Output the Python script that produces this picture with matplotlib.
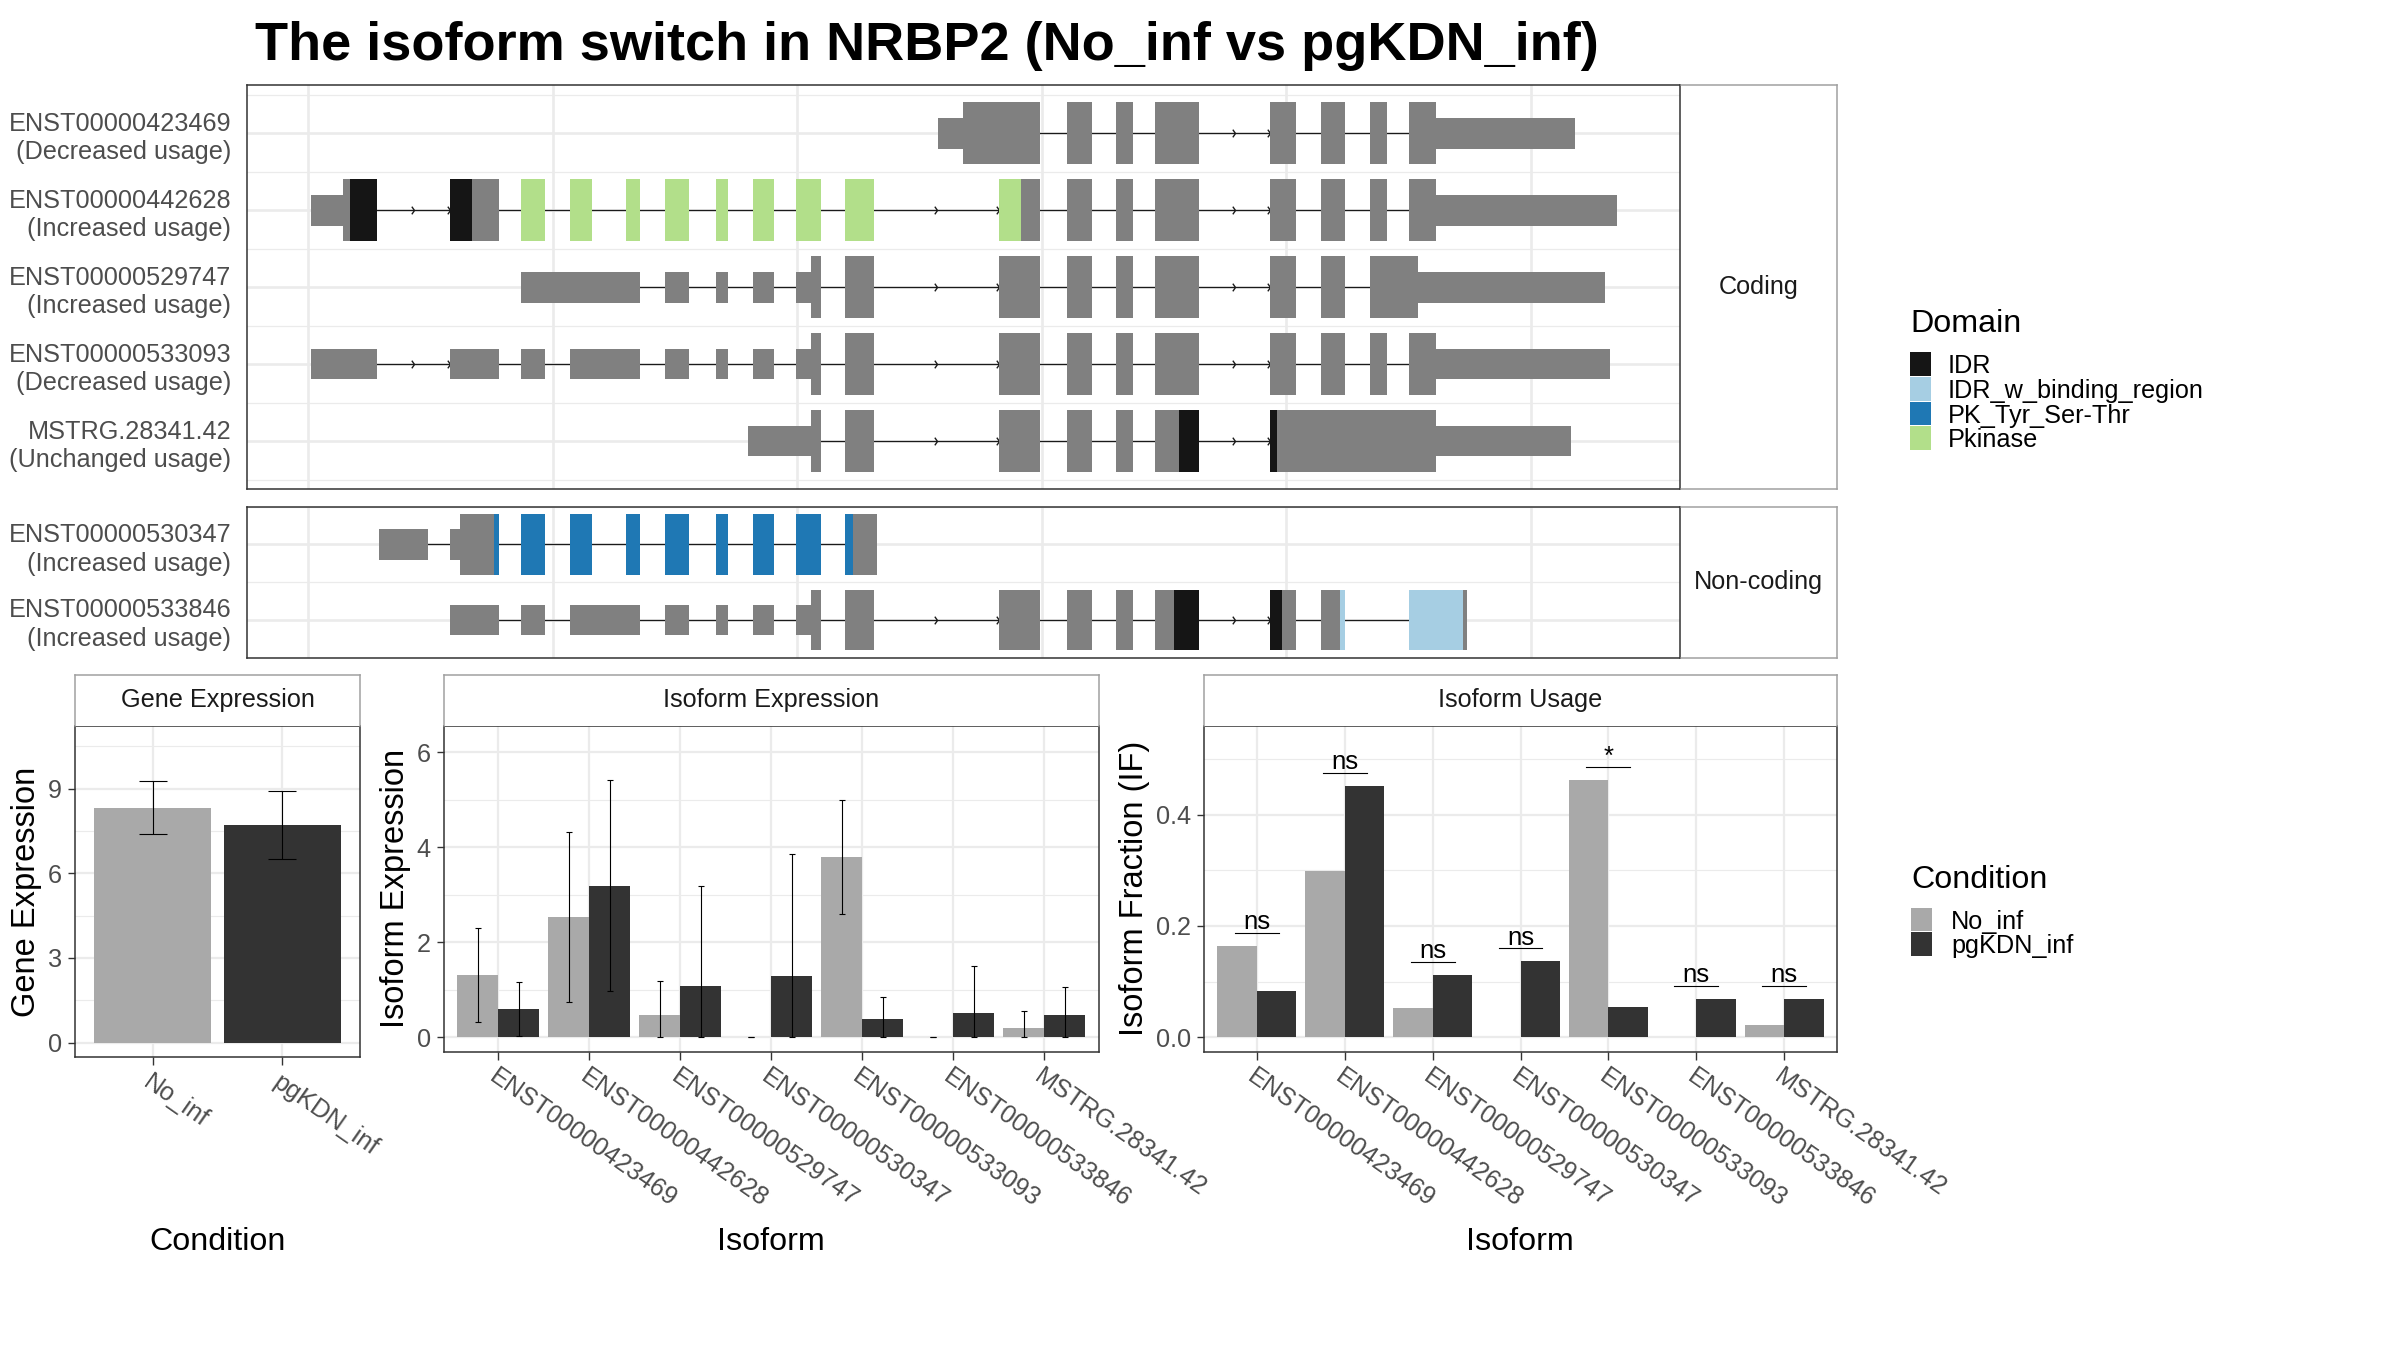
import numpy as np
import matplotlib
matplotlib.use("Agg")
import matplotlib.pyplot as plt
from matplotlib.patches import Rectangle
from matplotlib.path import Path
from matplotlib.transforms import Affine2D

plt.rcParams['font.family'] = ['Liberation Sans', 'DejaVu Sans']

# ---------------- data ----------------
coding_ids = ["ENST00000423469", "ENST00000442628", "ENST00000529747",
              "ENST00000533093", "MSTRG.28341.42"]
coding_usage = ["Decreased", "Increased", "Increased", "Decreased", "Unchanged"]
noncoding_ids = ["ENST00000530347", "ENST00000533846"]
noncoding_usage = ["Increased", "Increased"]

# exons in rescaled genomic coordinates
exons = {
    "ENST00000423469": [(644.1, 748.4), (776.0, 801.6), (826.2, 843.2), (866.0, 911.0),
                        (983.7, 1010.3), (1035.9, 1060.4), (1086.0, 1103.4), (1125.9, 1294.7)],
    "ENST00000442628": [(2.7, 70.2), (144.9, 195.0), (217.5, 242.1), (267.7, 290.2),
                        (324.9, 339.3), (364.8, 389.4), (417.0, 429.3), (454.9, 476.3),
                        (498.8, 524.4), (549.0, 578.6), (706.5, 748.4), (776.0, 801.6),
                        (826.2, 843.2), (866.0, 911.0), (983.7, 1010.3), (1035.9, 1060.4),
                        (1086.0, 1103.4), (1125.9, 1337.6)],
    "ENST00000529747": [(217.5, 339.3), (364.8, 389.4), (417.0, 429.3), (454.9, 476.3),
                        (498.8, 524.4), (549.0, 578.6), (706.5, 748.4), (776.0, 801.6),
                        (826.2, 843.2), (866.0, 911.0), (983.7, 1010.3), (1035.9, 1060.4),
                        (1086.0, 1325.4)],
    "ENST00000533093": [(2.7, 70.2), (144.9, 195.0), (217.5, 242.1), (267.7, 339.3),
                        (364.8, 389.4), (417.0, 429.3), (454.9, 476.3), (498.8, 524.4),
                        (549.0, 578.6), (706.5, 748.4), (776.0, 801.6), (826.2, 843.2),
                        (866.0, 911.0), (983.7, 1010.3), (1035.9, 1060.4), (1086.0, 1103.4),
                        (1125.9, 1330.5)],
    "MSTRG.28341.42": [(449.7, 524.4), (549.0, 578.6), (706.5, 748.4), (776.0, 801.6),
                       (826.2, 843.2), (866.0, 911.0), (983.7, 1290.6)],
    "ENST00000530347": [(72.5, 122.3), (144.9, 194.6), (217.5, 242.1), (267.7, 290.2),
                        (324.9, 339.3), (364.8, 389.4), (417.0, 429.3), (454.9, 476.3),
                        (498.8, 524.4), (549.0, 581.0)],
    "ENST00000533846": [(144.9, 195.0), (217.5, 242.1), (267.7, 339.3), (364.8, 389.4),
                        (417.0, 429.3), (454.9, 476.3), (498.8, 524.4), (549.0, 578.6),
                        (706.5, 748.4), (776.0, 801.6), (826.2, 843.2), (866.0, 911.0),
                        (983.7, 1010.3), (1035.9, 1060.4), (1125.9, 1184.6)],
}
cds = {
    "ENST00000423469": (669.0, 1152.5),
    "ENST00000442628": (35.8, 1152.5),
    "ENST00000529747": (514.2, 1135.1),
    "ENST00000533093": (514.2, 1152.5),
    "MSTRG.28341.42": (514.2, 1152.5),
    "ENST00000530347": (155.2, 581.0),
    "ENST00000533846": (514.2, 1184.6),
}
domains = {
    "ENST00000442628": [("IDR", 42.6, 167.4), ("Pkinase", 217.5, 729.0)],
    "MSTRG.28341.42": [("IDR", 890.6, 990.9)],
    "ENST00000530347": [("PK_Tyr_Ser-Thr", 189.9, 557.3)],
    "ENST00000533846": [("IDR", 885.3, 995.8), ("IDR_w_binding_region", 1055.2, 1180.2)],
}
domain_names = ["IDR", "IDR_w_binding_region", "PK_Tyr_Ser-Thr", "Pkinase"]
domain_colors = ["#151515", "#A6CEE3", "#1F78B4", "#B2DF8A"]

conditions = ["No_inf", "pgKDN_inf"]
cond_colors = ["#A9A9A9", "#333333"]

gene_mean = [8.30, 7.71]
gene_lo = [7.38, 6.50]
gene_hi = [9.27, 8.93]

isoforms = ["ENST00000423469", "ENST00000442628", "ENST00000529747", "ENST00000530347",
            "ENST00000533093", "ENST00000533846", "MSTRG.28341.42"]
exp_no = [1.31, 2.53, 0.47, 0.0, 3.79, 0.0, 0.195]
exp_no_lo = [0.33, 0.74, 0.0, 0.0, 2.59, 0.0, 0.0]
exp_no_hi = [2.31, 4.33, 1.18, 0.0, 5.00, 0.0, 0.56]
exp_pg = [0.595, 3.18, 1.08, 1.29, 0.385, 0.51, 0.47]
exp_pg_lo = [0.03, 0.97, 0.0, 0.0, 0.0, 0.0, 0.0]
exp_pg_hi = [1.17, 5.41, 3.18, 3.85, 0.84, 1.51, 1.07]

if_no = [0.164, 0.298, 0.053, 0.0, 0.462, 0.0, 0.022]
if_pg = [0.083, 0.452, 0.112, 0.137, 0.0545, 0.069, 0.069]
sig = ["ns", "ns", "ns", "ns", "*", "ns", "ns"]

# ---------------- figure ----------------
W, H = 2400, 1350
fig = plt.figure(figsize=(24, 13.5), dpi=100)
px = Affine2D().scale(1 / W, -1 / H).translate(0, 1) + fig.transFigure

GRID = "#EBEBEB"
EXON = "#808080"
TICK = "#4D4D4D"
FS_TEXT = 18.2    # tick labels, strips, legend labels
FS_TITLE = 23.2   # axis / legend titles


def box(x0, y0, x1, y1):
    return [x0 / W, 1 - y1 / H, (x1 - x0) / W, (y1 - y0) / H]


def style_panel(ax):
    for s in ax.spines.values():
        s.set_color("#333333")
        s.set_linewidth(1.1)
    ax.set_axisbelow(True)


def strip(rect, label, hide):
    sx = fig.add_axes(box(*rect))
    sx.set_xticks([])
    sx.set_yticks([])
    for k, s in sx.spines.items():
        s.set_color("#A0A0A0")
        s.set_linewidth(1.1)
    sx.spines[hide].set_visible(False)
    sx.text(0.5, 0.5, label, ha="center", va="center", fontsize=FS_TEXT,
            color="#1A1A1A", transform=sx.transAxes)
    return sx


chevron = Path([(-0.7, 1), (0, 0), (-0.7, -1)], [Path.MOVETO, Path.LINETO, Path.LINETO])


def draw_tx(ax, row, ex, cds_rng, doms):
    for (s0, e0), (s1, e1) in zip(ex[:-1], ex[1:]):
        ax.plot([e0, s1], [row, row], color="#1A1A1A", lw=0.9, zorder=2)
        if s1 - e0 > 70:
            ax.plot([(e0 + s1) / 2, s1], [row, row], ls="none", marker=chevron, ms=5.5,
                    mfc="none", mec="#1A1A1A", mew=1.0, zorder=2)
    c0, c1 = cds_rng
    for s, e in ex:
        for a, b in [(s, min(e, c0)), (max(s, c1), e)]:
            if b > a:
                ax.add_patch(Rectangle((a, row - 0.2), b - a, 0.4, color=EXON, lw=0, zorder=3))
        a, b = max(s, c0), min(e, c1)
        if b > a:
            ax.add_patch(Rectangle((a, row - 0.4), b - a, 0.8, color=EXON, lw=0, zorder=3))
        for name, ds, de in doms:
            a, b = max(s, ds, c0), min(e, de, c1)
            if b > a:
                col = domain_colors[domain_names.index(name)]
                ax.add_patch(Rectangle((a, row - 0.4), b - a, 0.8, color=col, lw=0, zorder=4))


def tx_panel(ax, ids, usage, pad):
    for r, tid in enumerate(ids, start=1):
        draw_tx(ax, r, exons[tid], cds[tid], domains.get(tid, []))
    n = len(ids)
    ax.set_xlim(-63, 1403)
    ax.set_ylim(n + pad, 1 - pad)
    ax.set_yticks(np.arange(1, n + 1))
    ax.set_yticklabels([f"{t}\n({u} usage)" for t, u in zip(ids, usage)],
                       fontsize=FS_TEXT, color=TICK, linespacing=1.25)
    ax.set_yticks(np.arange(0.5, n + 1), minor=True)
    ax.set_xticks(np.arange(0, 1251, 250))
    ax.tick_params(axis="both", which="both", length=0, labelbottom=False, pad=11)
    ax.grid(which="major", color=GRID, lw=1.9)
    ax.grid(which="minor", axis="y", color=GRID, lw=0.9)
    style_panel(ax)


# title
fig.text(255, 60, "The isoform switch in NRBP2 (No_inf vs pgKDN_inf)", transform=px,
         fontsize=39, fontweight="bold", ha="left", va="baseline")

# transcript structures
ax_c = fig.add_axes(box(246.7, 85, 1680.5, 489.3))
tx_panel(ax_c, coding_ids, coding_usage, 0.627)
ax_n = fig.add_axes(box(246.7, 506.7, 1680.5, 657.7))
tx_panel(ax_n, noncoding_ids, noncoding_usage, 0.48)
strip((1680.5, 85, 1837, 489.3), "Coding", "left")
strip((1680.5, 506.7, 1837, 657.7), "Non-coding", "left")


def bottom_axes(ax, ylabel):
    style_panel(ax)
    ax.tick_params(axis="both", which="major", length=5.4, width=1.0, color="#333333",
                   labelsize=FS_TEXT, labelcolor=TICK, pad=4)
    ax.tick_params(axis="both", which="minor", length=0)
    ax.grid(which="major", color=GRID, lw=1.6)
    ax.grid(which="minor", axis="y", color=GRID, lw=0.8)
    ax.set_ylabel(ylabel, fontsize=FS_TITLE + 0.3, labelpad=4)


# gene expression
ax_g = fig.add_axes(box(75, 726, 360, 1057))
xg = np.arange(1, len(conditions) + 1)
ax_g.bar(xg, gene_mean, width=0.9, color=cond_colors, zorder=2)
ax_g.errorbar(xg, gene_mean,
              yerr=[np.subtract(gene_mean, gene_lo), np.subtract(gene_hi, gene_mean)],
              fmt="none", ecolor="black", elinewidth=0.8, capsize=10, capthick=0.8, zorder=3)
ax_g.set_xlim(0.4, 2.6)
ax_g.set_ylim(-0.51, 11.22)
ax_g.set_yticks([0, 3, 6, 9])
ax_g.set_yticks([1.5, 4.5, 7.5, 10.5], minor=True)
ax_g.set_xticks(xg)
ax_g.set_xticklabels(conditions)
bottom_axes(ax_g, "Gene Expression")
strip((75, 675, 360, 726), "Gene Expression", "bottom")

xi = np.arange(1, len(isoforms) + 1)
bw = 0.45

# isoform expression
ax_e = fig.add_axes(box(443.8, 726, 1098.7, 1051.7))
for k, (vals, lo, hi) in enumerate([(exp_no, exp_no_lo, exp_no_hi),
                                    (exp_pg, exp_pg_lo, exp_pg_hi)]):
    xs = xi + (k - 0.5) * bw
    ax_e.bar(xs, vals, width=bw, color=cond_colors[k], zorder=2)
    ax_e.errorbar(xs, vals, yerr=[np.subtract(vals, lo), np.subtract(hi, vals)],
                  fmt="none", ecolor="black", elinewidth=0.8, capsize=2.3,
                  capthick=0.8, zorder=3)
ax_e.set_xlim(0.4, 7.6)
ax_e.set_ylim(-0.30, 6.55)
ax_e.set_yticks([0, 2, 4, 6])
ax_e.set_yticks([1, 3, 5], minor=True)
ax_e.set_xticks(xi)
ax_e.set_xticklabels(isoforms)
bottom_axes(ax_e, "Isoform Expression")
strip((443.8, 675, 1098.7, 726), "Isoform Expression", "bottom")

# isoform usage
ax_u = fig.add_axes(box(1204, 726, 1837, 1051.7))
for k, vals in enumerate([if_no, if_pg]):
    ax_u.bar(xi + (k - 0.5) * bw, vals, width=bw, color=cond_colors[k], zorder=2)
for i, lab in enumerate(sig):
    y = max(if_no[i], if_pg[i]) + 0.0225
    ax_u.plot([xi[i] - 0.25, xi[i] + 0.25], [y, y], color="black", lw=0.8, zorder=3)
    ax_u.text(xi[i], y + 0.007, lab, ha="center", va="baseline", fontsize=18.5, zorder=3)
ax_u.set_xlim(0.4, 7.6)
ax_u.set_ylim(-0.026, 0.559)
ax_u.set_yticks([0.0, 0.2, 0.4])
ax_u.set_yticklabels(["0.0", "0.2", "0.4"])
ax_u.set_yticks([0.1, 0.3, 0.5], minor=True)
ax_u.set_xticks(xi)
ax_u.set_xticklabels(isoforms)
bottom_axes(ax_u, "Isoform Fraction (IF)")
strip((1204, 675, 1837, 726), "Isoform Usage", "bottom")

for ax in (ax_g, ax_e, ax_u):
    plt.setp(ax.get_xticklabels(), rotation=-35, ha="left", va="top",
             rotation_mode="anchor")

# x axis titles
for xc, lab in [(217.5, "Condition"), (771, "Isoform"), (1520, "Isoform")]:
    fig.text(xc, 1250, lab, transform=px, fontsize=FS_TITLE, ha="center", va="baseline")


# legends
def legend(x, title_y, key_top, names, colors, label_x):
    fig.text(x, title_y, names[0], transform=px, fontsize=FS_TITLE, ha="left", va="baseline")
    for i, (nm, col) in enumerate(zip(names[1], colors)):
        y0 = key_top + i * 24.6
        fig.add_artist(Rectangle((x, y0), 21, 23.6, transform=px, color=col, lw=0))
        fig.text(label_x, y0 + 12 + 9, nm, transform=px, fontsize=FS_TEXT,
                 ha="left", va="baseline")


legend(1910, 331.7, 352.3, ("Domain", domain_names), domain_colors, 1948)
legend(1911, 888.3, 907.7, ("Condition", conditions), cond_colors, 1951)

fig.savefig("out.png", dpi=100)
